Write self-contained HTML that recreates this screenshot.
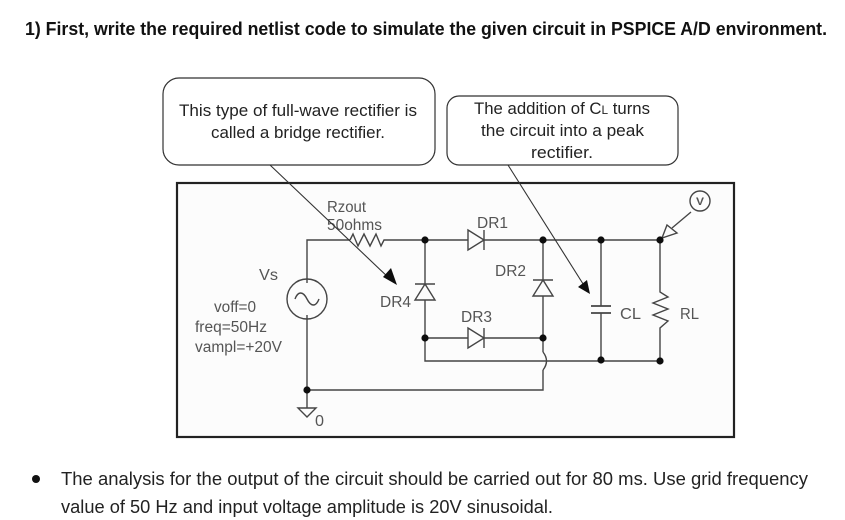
<!DOCTYPE html>
<html><head><meta charset="utf-8"><style>
html,body{margin:0;padding:0;background:#fff;width:845px;height:520px;overflow:hidden}
svg{display:block}
text{font-family:"Liberation Sans",sans-serif}
</style></head><body>
<svg width="845" height="520" viewBox="0 0 845 520" xmlns="http://www.w3.org/2000/svg">
<defs><filter id="b" x="-2%" y="-2%" width="104%" height="104%"><feGaussianBlur stdDeviation="0.35"/></filter></defs>
<rect width="845" height="520" fill="#fff"/>
<text x="25" y="35" font-size="18" font-weight="bold" fill="#111" textLength="802" lengthAdjust="spacingAndGlyphs">1)  First, write the required netlist code to simulate the given circuit in PSPICE A/D environment.</text>

<g filter="url(#b)">
<rect x="177" y="183" width="557" height="254" fill="#fcfcfc" stroke="#222" stroke-width="2.2"/>

<g fill="none" stroke="#444" stroke-width="1.4">
<path d="M307 279V240H350M387 240H660M307 319V408M307 390H543V370M543 352V240"/>
<path d="M425 240V361H660"/>
<path d="M425 338H543"/>
<path d="M350 240l3-6 5 12 6-12 6 12 6-12 5 12 3-6h3"/>
<path d="M543 352q7 9 0 18" fill="none"/>
<circle cx="307" cy="299" r="20" fill="#fcfcfc"/>
<path d="M295 299c3-8 8-8 12 0s9 8 12 0"/>
<path d="M307 279v4M307 315v4"/>
<path d="M298 408h18l-9 9z"/>
<path d="M425 284l-10 16h20zM415 284h20" fill="#fcfcfc"/>
<path d="M468 230l16 10-16 10zM484 230v20" fill="#fcfcfc"/>
<path d="M468 328l16 10-16 10zM484 328v20" fill="#fcfcfc"/>
<path d="M533 280h20M543 280l-10 16h20z" fill="#fcfcfc"/>
<path d="M601 240V306M601 313V361"/>
<path d="M591 306h20M591 313h20" stroke-width="1.7"/>
<path d="M660 240V292l8 5-15 6 15 6-15 6 15 6-8 7V361"/>
<circle cx="700" cy="201" r="10"/>
<path d="M691 212L672 228"/>
<path d="M662 238L667 225L677 233Z" fill="#fcfcfc"/>
</g>
<g fill="#111">
<circle cx="425" cy="240" r="3.6"/><circle cx="425" cy="338" r="3.6"/>
<circle cx="543" cy="240" r="3.6"/><circle cx="601" cy="240" r="3.6"/><circle cx="660" cy="240" r="3.6"/>
<circle cx="543" cy="338" r="3.6"/><circle cx="601" cy="360" r="3.6"/><circle cx="660" cy="361" r="3.6"/>
<circle cx="307" cy="390" r="3.6"/>
</g>
<g fill="#555" font-size="15.5">
<text x="327" y="212" textLength="39" lengthAdjust="spacingAndGlyphs">Rzout</text>
<text x="327" y="230" textLength="55" lengthAdjust="spacingAndGlyphs">50ohms</text>
<text x="259" y="280" textLength="19" lengthAdjust="spacingAndGlyphs">Vs</text>
<text x="214" y="312" textLength="42" lengthAdjust="spacingAndGlyphs">voff=0</text>
<text x="195" y="332" textLength="72" lengthAdjust="spacingAndGlyphs">freq=50Hz</text>
<text x="195" y="352" textLength="87" lengthAdjust="spacingAndGlyphs">vampl=+20V</text>
<text x="380" y="307" textLength="31" lengthAdjust="spacingAndGlyphs">DR4</text>
<text x="477" y="228" textLength="31" lengthAdjust="spacingAndGlyphs">DR1</text>
<text x="495" y="276" textLength="31" lengthAdjust="spacingAndGlyphs">DR2</text>
<text x="461" y="322" textLength="31" lengthAdjust="spacingAndGlyphs">DR3</text>
<text x="620" y="319" textLength="21" lengthAdjust="spacingAndGlyphs">CL</text>
<text x="680" y="319" textLength="19" lengthAdjust="spacingAndGlyphs">RL</text>
<text x="315" y="426" textLength="9" lengthAdjust="spacingAndGlyphs">0</text>
<text x="696" y="205" font-size="11" font-weight="bold" textLength="8" lengthAdjust="spacingAndGlyphs">V</text>
</g>

<g fill="#fff" stroke="#333" stroke-width="1.2">
<rect x="163" y="78" width="272" height="87" rx="16"/>
<rect x="447" y="96" width="231" height="69" rx="12"/>
</g>
<g stroke="#333" stroke-width="1.1" fill="none">
<path d="M270 165L390 279"/>
<path d="M508 165L585 287"/>
</g>
<path d="M397 285L383 277L391 268Z" fill="#111"/>
<path d="M590 294L578 287L587 280Z" fill="#111"/>

<g fill="#222" font-size="17">
<text x="179" y="116" textLength="238" lengthAdjust="spacingAndGlyphs">This type of full-wave rectifier is</text>
<text x="211" y="138" textLength="174" lengthAdjust="spacingAndGlyphs">called a bridge rectifier.</text>
<text x="474" y="114" textLength="176" lengthAdjust="spacingAndGlyphs">The addition of C<tspan font-size="12">L</tspan> turns</text>
<text x="481" y="136" textLength="163" lengthAdjust="spacingAndGlyphs">the circuit into a peak</text>
<text x="531" y="158" textLength="62" lengthAdjust="spacingAndGlyphs">rectifier.</text>
</g>
</g>

<circle cx="36" cy="479" r="4" fill="#111"/>
<g fill="#222" font-size="18">
<text x="61" y="485" textLength="747" lengthAdjust="spacingAndGlyphs">The analysis for the output of the circuit should be carried out for 80 ms. Use grid frequency</text>
<text x="61" y="513" textLength="492" lengthAdjust="spacingAndGlyphs">value of 50 Hz and input voltage amplitude is 20V sinusoidal.</text>
</g>
</svg>
</body></html>
